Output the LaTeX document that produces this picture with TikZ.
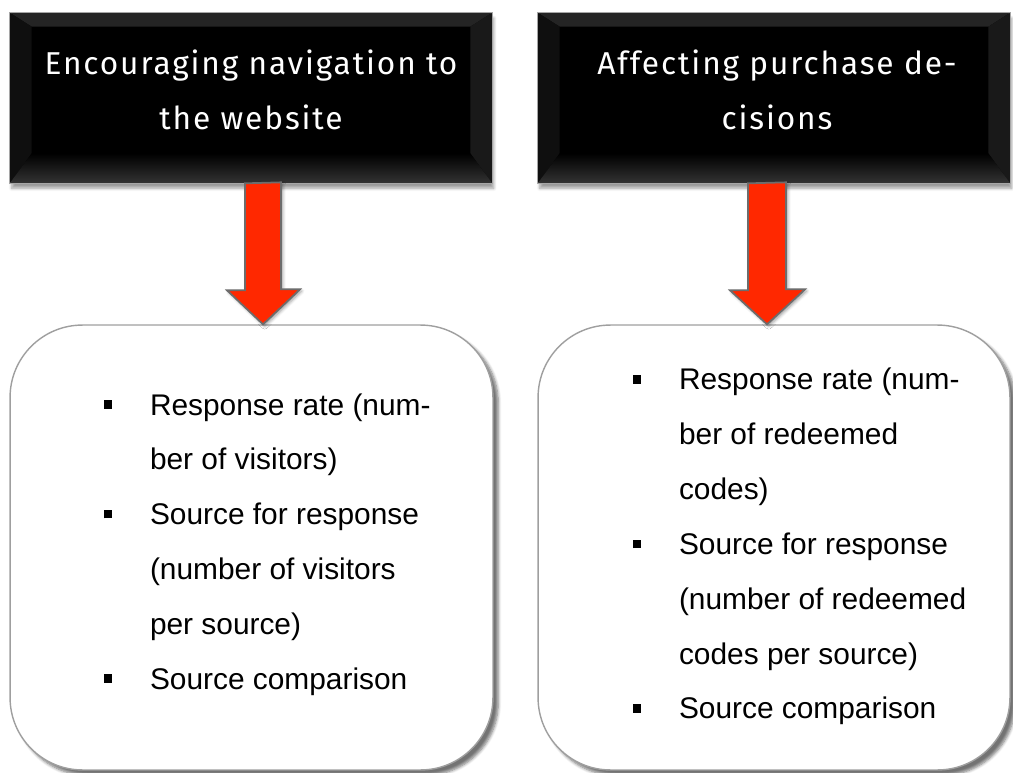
\documentclass[tikz,border=0pt]{standalone}
\usepackage{fontspec}
\usepackage{tikz}
\usetikzlibrary{calc,shadows.blur}
\newfontfamily\bodyfont{Liberation Sans}
\newfontfamily\headfont[LetterSpace=6]{Fira Sans}
\definecolor{arrowred}{RGB}{255,40,0}
\newcommand{\bul}{\makebox[26pt][l]{\rule[3.6pt]{4.6pt}{4.8pt}}}
\newcommand{\ind}{\hspace*{26pt}}

\begin{document}
\begin{tikzpicture}[x = 0.02cm, y = -0.02cm,
    headbox/.style = {draw=gray!70, fill=black, inner sep=0pt, minimum height=3.4cm,
      blur shadow={shadow xshift=1pt, shadow yshift=-3pt, shadow blur steps=6}},
    headtext/.style = {text=white, align=center, inner sep=0pt,
      font=\headfont\fontsize{18}{31.2}\selectfont},
    listbox/.style = {draw=gray!75, line width=0.8pt, fill=white, rounded corners=1.45cm,
      minimum height=8.9cm,
      blur shadow={shadow xshift=3pt, shadow yshift=-3pt, shadow blur steps=6, shadow opacity=55}},
    listtext/.style = {anchor=north west, inner sep=0pt, align=left,
      font=\bodyfont\fontsize{17}{31.2}\selectfont},
    bigarrow/.style = {draw=gray!85!black, line width=1pt, fill=arrowred, line join=miter,
      blur shadow={shadow xshift=1pt, shadow yshift=-1pt, shadow blur steps=4}}]
          \useasboundingbox (0, 0) rectangle (1013, 773);
          % headers
          \node[headbox, minimum width=9.64cm] (navhead) at (251, 98) {};
          \node[headbox, minimum width=9.44cm] (buyhead) at (774, 98) {};
          \foreach \h in {navhead, buyhead} {
            \fill[black!86] (\h.north west) -- (\h.north east) -- ++(-22, 14) -- ($(\h.north west) + (22, 14)$) -- cycle;
            \fill[black!94] (\h.north west) -- ($(\h.north west) + (22, 14)$) -- ($(\h.south west) + (22, -30)$) -- (\h.south west) -- cycle;
            \fill[black!90] (\h.north east) -- ($(\h.north east) + (-22, 14)$) -- ($(\h.south east) + (-22, -30)$) -- (\h.south east) -- cycle;
            \shade[top color=black, middle color=gray!55!black, bottom color=black!80]
              (\h.south west) -- (\h.south east) -- ++(-22, -30) -- ($(\h.south west) + (22, -30)$) -- cycle;
            \draw[gray!70] (\h.north west) rectangle (\h.south east);
          }
          \node[headtext] (navtitle) at ($(navhead.center) + (0, -8)$) {Encouraging navigation to\\the website};
          \node[headtext] (buytitle) at ($(buyhead.center) + (3, -8)$) {Affecting purchase de-\\cisions};
          % boxes
          \node[listbox, minimum width=9.66cm] (navbox) at (251.5, 547.5) {};
          \node[listbox, minimum width=9.44cm] (buybox) at (774, 547.5) {};
          \node[listtext] (navlist) at (104, 393) {\bul Response rate (num-\\\ind ber of visitors)\\\bul Source for response\\\ind (number of visitors\\\ind per source)\\\bul Source comparison};
          \node[listtext] (buylist) at (633, 368) {\bul Response rate (num-\\\ind ber of redeemed\\\ind codes)\\\bul Source for response\\\ind (number of redeemed\\\ind codes per source)\\\bul Source comparison};
          % arrows
          \path (navhead.south) ++(12, 0) coordinate (navarrow);
          \path (buyhead.south) ++(-7, 0) coordinate (buyarrow);
          \draw[bigarrow] (navarrow) ++(-18, 0) -- ++(0, 107) -- ++(-18, 0) -- (navarrow |- navbox.north) -- ++(37, -35) -- ++(-19, 0) -- ++(0, -107) -- cycle;
          \draw[bigarrow] (buyarrow) ++(-19, 0) -- ++(0, 107) -- ++(-18, 0) -- (buyarrow |- buybox.north) -- ++(38, -35) -- ++(-19, 0) -- ++(0, -107) -- cycle;
      \end{tikzpicture}
\end{document}
